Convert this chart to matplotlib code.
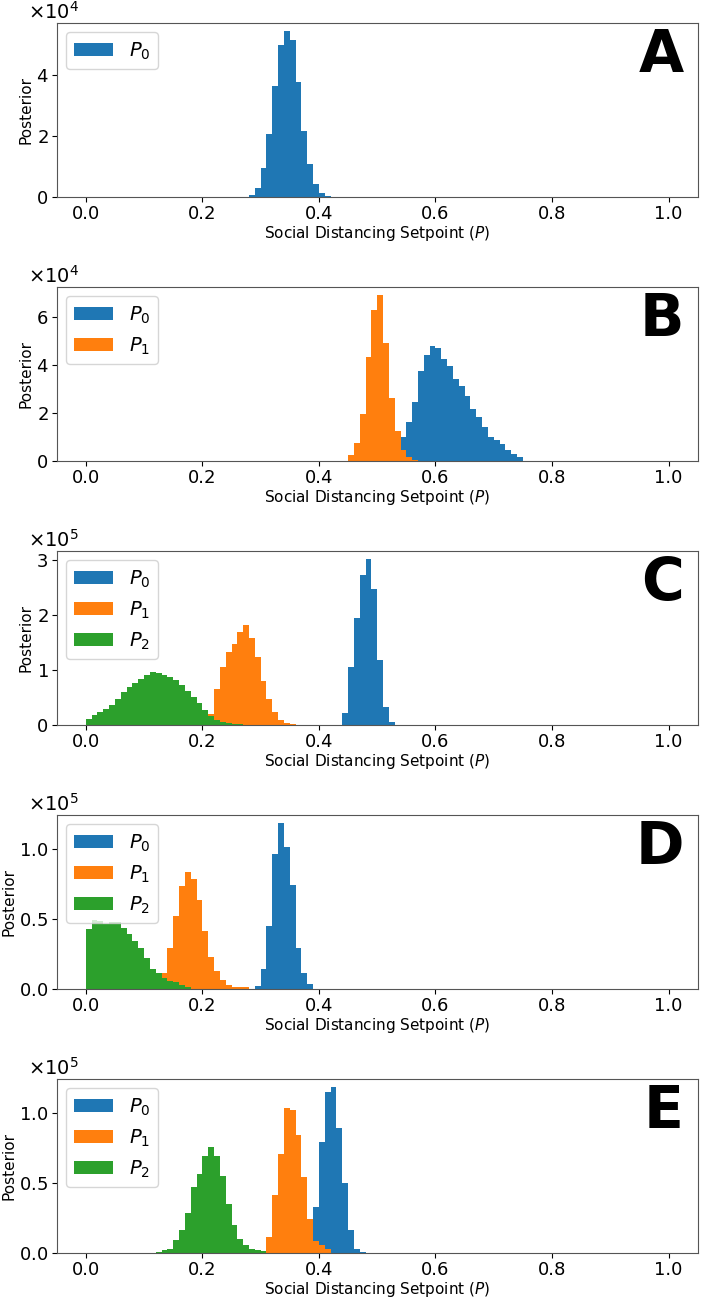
import numpy as np
import matplotlib.pyplot as plt
from matplotlib.ticker import ScalarFormatter

edges = np.linspace(0, 1, 101)

# panel A (x1e4)
a_p0_start = 28
a_p0 = [0.05, 0.27, 0.93, 2.05, 3.62, 4.96, 5.43, 5.14, 3.76, 2.16, 1.07, 0.41, 0.13, 0.03]

# panel B (x1e4)
b_p0_start = 52
b_p0 = [0.2, 0.5, 1.0, 1.6, 2.46, 3.74, 4.43, 4.79, 4.72, 4.24, 3.95, 3.40, 3.11,
        2.71, 2.18, 1.81, 1.39, 0.98, 0.86, 0.70, 0.45, 0.28, 0.14]
b_p1_start = 45
b_p1 = [0.24, 0.75, 1.95, 4.33, 6.31, 6.93, 4.94, 2.64, 1.25, 0.43, 0.17, 0.05]

# panel C (x1e5)
c_p0_start = 44
c_p0 = [0.21, 1.05, 1.93, 2.72, 3.01, 2.46, 1.17, 0.32, 0.04]
c_p1_start = 21
c_p1 = [0.20, 0.64, 1.05, 1.32, 1.47, 1.68, 1.81, 1.58, 1.23, 0.79, 0.47, 0.23, 0.08, 0.03, 0.01]
c_p2_start = 0
c_p2 = [0.10, 0.18, 0.23, 0.28, 0.36, 0.47, 0.59, 0.68, 0.76, 0.83, 0.90, 0.96, 0.94,
        0.91, 0.87, 0.81, 0.73, 0.62, 0.50, 0.39, 0.26, 0.16, 0.09, 0.05, 0.03, 0.02, 0.01]

# panel D (x1e5)
d_p0_start = 29
d_p0 = [0.02, 0.145, 0.45, 0.97, 1.19, 1.02, 0.745, 0.295, 0.113, 0.036]
d_p1_start = 13
d_p1 = [0.115, 0.295, 0.523, 0.739, 0.839, 0.787, 0.636, 0.415, 0.228, 0.127, 0.062,
        0.024, 0.014, 0.014, 0.012]
d_p2_start = 0
d_p2 = [0.427, 0.49, 0.485, 0.468, 0.477, 0.477, 0.436, 0.39, 0.343, 0.293, 0.22,
        0.144, 0.113, 0.079, 0.055, 0.048, 0.024, 0.012]

# panel E (x1e5)
e_p0_start = 38
e_p0 = [0.12, 0.326, 0.79, 1.148, 1.183, 0.89, 0.498, 0.164, 0.029, 0.007]
e_p1_start = 30
e_p1 = [0.012, 0.112, 0.414, 0.702, 1.036, 1.017, 0.838, 0.54, 0.243, 0.083, 0.052, 0.024]
e_p2_start = 12
e_p2 = [0.007, 0.017, 0.029, 0.093, 0.164, 0.283, 0.469, 0.564, 0.688, 0.755, 0.688,
        0.548, 0.35, 0.2, 0.095, 0.052, 0.029, 0.017, 0.01]

panels = [
    ("A", 1e4, [(a_p0_start, a_p0)]),
    ("B", 1e4, [(b_p0_start, b_p0), (b_p1_start, b_p1)]),
    ("C", 1e5, [(c_p0_start, c_p0), (c_p1_start, c_p1), (c_p2_start, c_p2)]),
    ("D", 1e5, [(d_p0_start, d_p0), (d_p1_start, d_p1), (d_p2_start, d_p2)]),
    ("E", 1e5, [(e_p0_start, e_p0), (e_p1_start, e_p1), (e_p2_start, e_p2)]),
]
colors = ["#1f77b4", "#ff7f0e", "#2ca02c"]


def full_counts(start, vals, scale):
    c = np.zeros(len(edges) - 1)
    c[start:start + len(vals)] = np.array(vals) * scale
    return c


fig = plt.figure(figsize=(7.06, 13.0), dpi=100)
centers = 0.5 * (edges[:-1] + edges[1:])

for i, (letter, scale, series) in enumerate(panels):
    bottom = 1 - (196.7 + 264 * i) / 1300
    ax = fig.add_axes([0.0803, bottom, 0.908, 0.1338])
    for j, (start, vals) in enumerate(series):
        ax.hist(centers, bins=edges, weights=full_counts(start, vals, scale),
                color=colors[j], label="$P_%d$" % j)
    fmt = ScalarFormatter(useMathText=True)
    fmt.set_powerlimits((0, 0))
    ax.yaxis.set_major_formatter(fmt)
    off = ax.yaxis.get_offset_text()
    off.set_fontsize(14)
    off.set_x(-0.045)
    ax.tick_params(labelsize=13, pad=2.5)
    ax.set_xticks([0.0, 0.2, 0.4, 0.6, 0.8, 1.0])
    ax.set_xlabel("Social Distancing Setpoint ($P$)", fontsize=11, labelpad=1)
    ax.set_ylabel("Posterior", fontsize=11, labelpad=2)
    ax.legend(loc="upper left", fontsize=14)
    ax.text(0.978, 0.975, letter, transform=ax.transAxes, ha="right", va="top",
            fontsize=42, fontweight="bold")
    for s in ax.spines.values():
        s.set_color("#555555")

fig.savefig("out.png", dpi=100)
